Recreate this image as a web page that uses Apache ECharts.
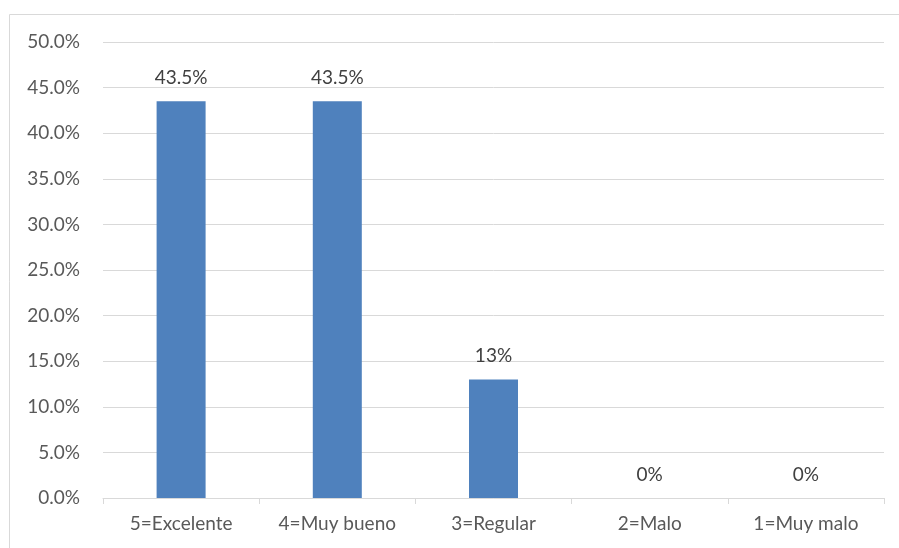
<!DOCTYPE html>
<html><head><meta charset="utf-8">
<script src="https://cdn.jsdelivr.net/npm/echarts@6/dist/echarts.min.js"></script>
<style>html,body{margin:0;padding:0;background:#fff}#c{width:899px;height:548px}</style>
</head><body><div id="c"></div>
<script>
const categories = ['5=Excelente','4=Muy bueno','3=Regular','2=Malo','1=Muy malo'];
const values = [43.5, 43.5, 13, 0, 0];
const valueLabels = ['43.5%','43.5%','13%','0%','0%'];
const yTicks = {min:0, max:50, interval:5};

const chart = echarts.init(document.getElementById('c'));
const font = 'Lato, "Open Sans", sans-serif';
chart.setOption({
  animation:false,
  graphic:[{type:'rect',shape:{x:9.5,y:14.5,width:900,height:540},style:{fill:'none',stroke:'#d9d9d9',lineWidth:1}}],
  grid:{left:103,right:15,top:42,bottom:50},
  xAxis:{type:'category',data:categories,
    axisLine:{lineStyle:{color:'#d9d9d9',width:1}},
    axisTick:{show:true,length:6,lineStyle:{color:'#d9d9d9'}},
    axisLabel:{color:'#595959',fontSize:19,fontFamily:font,margin:16}},
  yAxis:{type:'value',min:yTicks.min,max:yTicks.max,interval:yTicks.interval,
    axisLine:{show:false},axisTick:{show:false},
    splitLine:{lineStyle:{color:'#d9d9d9',width:1}},
    axisLabel:{color:'#595959',fontSize:19,fontFamily:font,margin:23,formatter:v=>v.toFixed(1)+'%'}},
  series:[{type:'bar',data:values,barWidth:49,itemStyle:{color:'#4f81bd'},
    label:{show:true,position:'top',distance:14,color:'#404040',fontSize:19,fontFamily:font,
      formatter:p=>valueLabels[p.dataIndex]}}]
});
</script></body></html>
